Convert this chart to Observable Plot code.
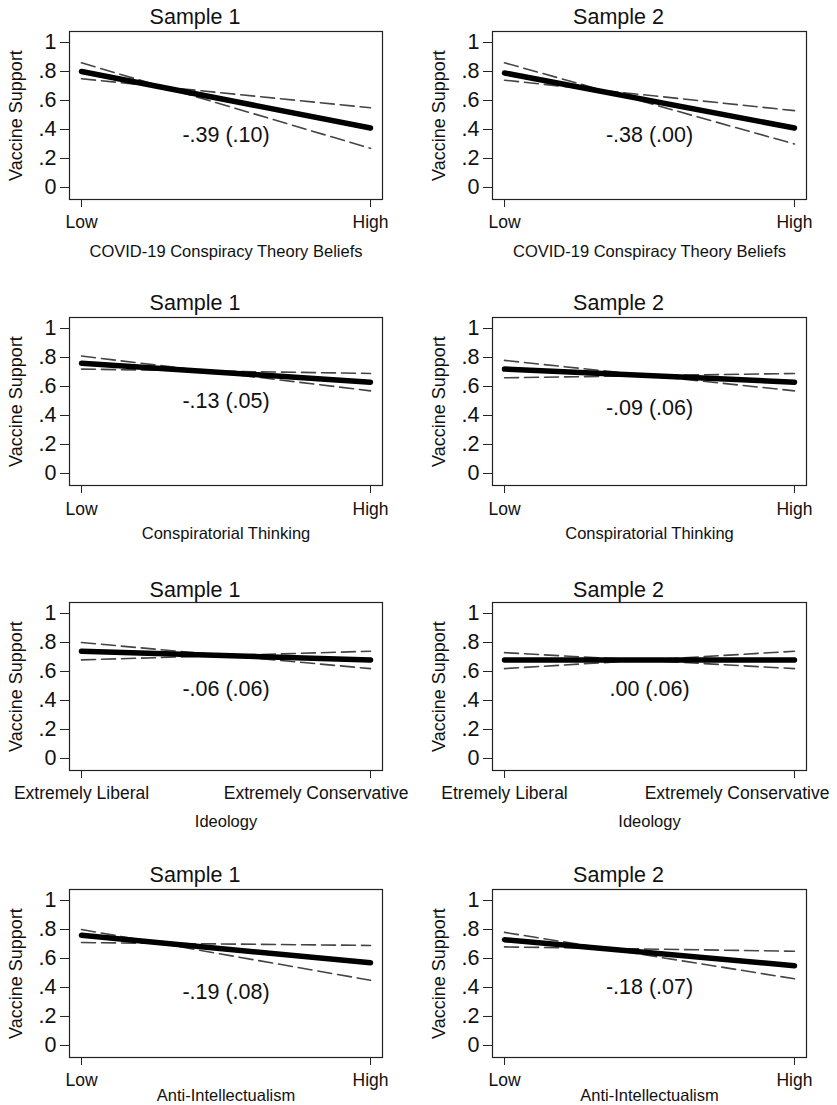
<!DOCTYPE html>
<html><head><meta charset="utf-8">
<script src="https://cdn.jsdelivr.net/npm/d3@7"></script>
<script src="https://cdn.jsdelivr.net/npm/@observablehq/plot@0.6"></script>
<style>
body{margin:0;background:#fff;}
#root{position:relative;width:837px;height:1105px;overflow:hidden;background:#fff;}
.panel{position:absolute;}
</style></head><body><div id="root"></div>
<script>
// ---- data ----
const samples = ["Sample 1", "Sample 2"];
const variables = ["COVID-19 Conspiracy Theory Beliefs", "Conspiratorial Thinking", "Ideology", "Anti-Intellectualism"];
const lowLabels = [["Low", "Low"], ["Low", "Low"], ["Extremely Liberal", "Etremely Liberal"], ["Low", "Low"]];
const highLabels = [["High", "High"], ["High", "High"], ["Extremely Conservative", "Extremely Conservative"], ["High", "High"]];
const fitLow  = [[0.80, 0.79], [0.76, 0.72], [0.74, 0.68], [0.76, 0.73]];
const fitHigh = [[0.41, 0.41], [0.63, 0.63], [0.68, 0.68], [0.57, 0.55]];
const ciALow  = [[0.86, 0.86], [0.81, 0.78], [0.80, 0.73], [0.80, 0.78]];
const ciAHigh = [[0.27, 0.30], [0.57, 0.57], [0.62, 0.62], [0.45, 0.46]];
const ciBLow  = [[0.75, 0.74], [0.72, 0.66], [0.68, 0.62], [0.71, 0.68]];
const ciBHigh = [[0.55, 0.53], [0.69, 0.69], [0.74, 0.74], [0.69, 0.65]];
const estimates = [["-.39 (.10)", "-.38 (.00)"], ["-.13 (.05)", "-.09 (.06)"], ["-.06 (.06)", ".00 (.06)"], ["-.19 (.08)", "-.18 (.07)"]];
const estimateY = [[0.36, 0.36], [0.50, 0.45], [0.48, 0.48], [0.37, 0.40]];
const yTicks = [0, 0.2, 0.4, 0.6, 0.8, 1];
const yTickLabels = ["0", ".2", ".4", ".6", ".8", "1"];
const xTicks = [0, 1];
const yLabel = "Vaccine Support";

// ---- layout ----
const FONT = "'Liberation Sans', Arial, Helvetica, sans-serif";
const rowTop = [0, 286, 571, 858];
const rowHeight = [286, 285, 287, 247];
const tickLabelDy = [23, 24, 23, 23];
const axisTitleDy = [52, 48, 51, 38];
const titleDy = [-14, -14, -12, -14];
const colLeft = [0, 420];
const colWidth = [418, 417];
const mLeft = [69, 72];
const mRight = [36, 31];
const longHighDx = [38, 35];

const root = document.getElementById("root");

variables.forEach((v, r) => {
  samples.forEach((s, c) => {
    const fit = [{x: 0, y: fitLow[r][c]}, {x: 1, y: fitHigh[r][c]}];
    const ciA = [{x: 0, y: ciALow[r][c]}, {x: 1, y: ciAHigh[r][c]}];
    const ciB = [{x: 0, y: ciBLow[r][c]}, {x: 1, y: ciBHigh[r][c]}];
    const hi = highLabels[r][c];
    const longHi = hi.length > 10;
    const txt = {fill: "#111", lineAnchor: "middle"};
    const plot = Plot.plot({
      width: colWidth[c],
      height: rowHeight[r],
      marginTop: 31,
      marginBottom: rowHeight[r] - 31 - 168,
      marginLeft: mLeft[c],
      marginRight: mRight[c],
      style: {fontFamily: FONT, fontSize: "21px", color: "#111", background: "transparent", overflow: "visible"},
      x: {domain: [-0.0415, 1.0415], axis: null},
      y: {domain: [-0.083, 1.076], axis: null},
      marks: [
        Plot.axisY({ticks: yTicks, tickFormat: (d) => yTickLabels[yTicks.indexOf(d)], tickSize: 9, tickPadding: 4, fontSize: 21.5, label: null, stroke: "#222"}),
        Plot.axisX({ticks: xTicks, tickSize: 8, tickFormat: () => "", label: null, stroke: "#222"}),
        Plot.line(ciA, {x: "x", y: "y", stroke: "#444", strokeWidth: 1.6, strokeDasharray: "14,6"}),
        Plot.line(ciB, {x: "x", y: "y", stroke: "#444", strokeWidth: 1.6, strokeDasharray: "14,6"}),
        Plot.line(fit, {x: "x", y: "y", stroke: "#000", strokeWidth: 5.5, strokeLinecap: "round"}),
        Plot.frame({stroke: "#222", strokeWidth: 1.2}),
        Plot.text([estimates[r][c]], {...txt, x: 0.5, y: estimateY[r][c], text: (d) => d, fontSize: 21.5}),
        Plot.text([s], {...txt, frameAnchor: "top", text: (d) => d, dy: titleDy[r], dx: -31, fontSize: 21.5}),
        Plot.text([yLabel], {...txt, frameAnchor: "left", textAnchor: "middle", text: (d) => d, dx: -53, rotate: -90, fontSize: 18}),
        Plot.text([lowLabels[r][c]], {...txt, x: 0, frameAnchor: "bottom", text: (d) => d, dy: tickLabelDy[r], fontSize: 17.5}),
        Plot.text([hi], {...txt, x: 1, frameAnchor: "bottom", text: (d) => d, dy: tickLabelDy[r], dx: longHi ? longHighDx[c] : 0, textAnchor: longHi ? "end" : "middle", fontSize: 17.5}),
        Plot.text([v], {...txt, frameAnchor: "bottom", text: (d) => d, dy: axisTitleDy[r], fontSize: 16.5})
      ]
    });
    const div = document.createElement("div");
    div.className = "panel";
    div.style.left = colLeft[c] + "px";
    div.style.top = rowTop[r] + "px";
    div.appendChild(plot);
    root.appendChild(div);
  });
});
</script>
</body></html>
